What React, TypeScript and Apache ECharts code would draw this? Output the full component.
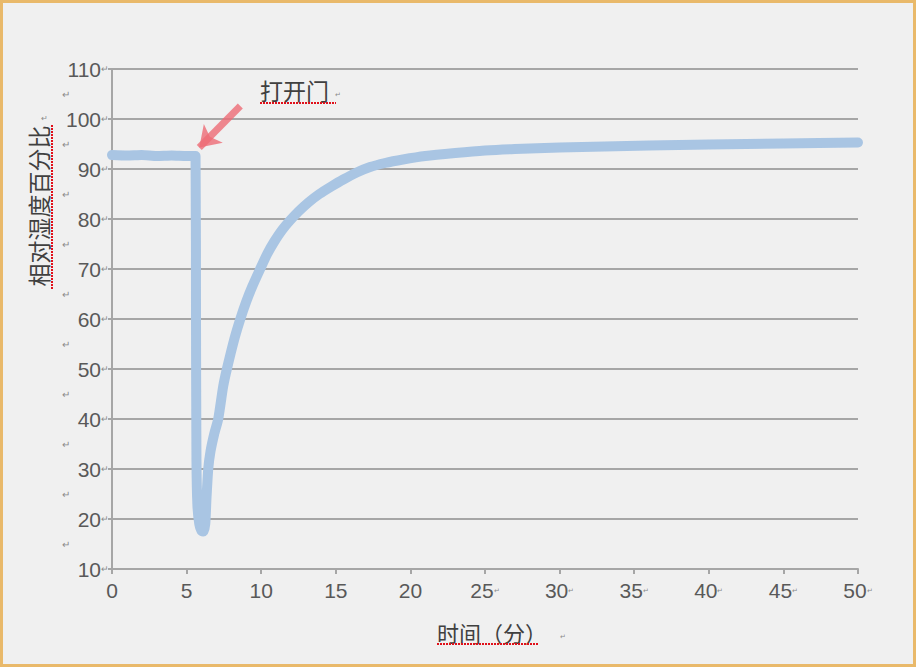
import React, { useEffect, useRef } from "react";
import * as echarts from "echarts";

// time in minutes and relative humidity (%)
const minutes = [
  0, 1, 2, 3, 4, 5, 5.6, 5.63, 5.66, 5.72, 5.85, 6.0, 6.12, 6.25, 6.33, 6.45,
  6.6, 6.85, 7.12, 7.45, 7.7, 8.2, 8.6, 9.0, 9.4, 9.9, 10.4, 10.9, 11.4, 11.9,
  12.5, 13.2, 13.9, 14.7, 15.5, 16.4, 17.3, 18.3, 19.5, 21, 23, 25, 27, 30,
  33, 36, 40, 45, 50,
];
const humidity = [
  92.8, 92.7, 92.8, 92.6, 92.7, 92.6, 92.6, 60, 32, 23, 19, 17.6, 17.5, 19,
  24, 30, 33.5, 37, 40, 46.5, 50, 56, 60, 63.5, 66.5, 69.8, 73.0, 75.6, 77.8,
  79.6, 81.5, 83.4, 85.0, 86.5, 87.9, 89.3, 90.4, 91.2, 91.9, 92.6, 93.2,
  93.7, 94, 94.3, 94.5, 94.7, 94.9, 95.1, 95.3,
];
const xTicks = { min: 0, max: 50, step: 5 };
const yTicks = { min: 10, max: 110, step: 10 };
// "打开门" arrow: tail and tip in data units
const arrowTail = [8.6, 102.6];
const arrowTip = [5.85, 94.3];

const yTitle = "相对湿度百分比";
const xTitle = "时间（分）";
const doorLabel = "打开门";

const LATIN = "'Liberation Sans', Arial, sans-serif";
const CJK = "'Noto Sans CJK SC', sans-serif";
const GRAY = "#a6a6a6";

const App = () => {
  const chartRef = useRef<HTMLDivElement>(null);

  useEffect(() => {
    document.body.style.margin = "0";
    if (!chartRef.current) return;
    const chart = echarts.init(chartRef.current, null, { renderer: "svg" });
    const points = minutes.map((m, i) => [m, humidity[i]]);
    const wavy = { stroke: "#e0101a", lineWidth: 2, lineDash: [2, 1] };

    chart.setOption({
      animation: false,
      backgroundColor: "#f0f0f0",
      grid: { left: 112, right: 58, top: 69, bottom: 98 },
      xAxis: {
        type: "value",
        min: xTicks.min,
        max: xTicks.max,
        interval: xTicks.step,
        axisLine: { lineStyle: { color: GRAY, width: 2 } },
        axisTick: { length: 5, lineStyle: { color: GRAY, width: 2 } },
        splitLine: { show: false },
        axisLabel: {
          margin: 11,
          formatter: (v: number) => (v >= 25 ? `{n|${v}}{m|↵}` : `{n|${v}}`),
          rich: {
            n: { fontSize: 21, color: "#595959", fontFamily: LATIN },
            m: { fontSize: 7, color: "#8a8a8a", fontFamily: LATIN },
          },
        },
      },
      yAxis: [
        {
          type: "value",
          min: yTicks.min,
          max: yTicks.max,
          interval: yTicks.step,
          axisLine: { show: true, lineStyle: { color: GRAY, width: 2 } },
          axisTick: { show: true, length: 4, lineStyle: { color: GRAY, width: 2 } },
          splitLine: { lineStyle: { color: GRAY, width: 2 } },
          axisLabel: {
            margin: 3,
            formatter: (v: number) => `{n|${v}}{m|↵}`,
            rich: {
              n: { fontSize: 21, color: "#595959", fontFamily: LATIN },
              m: { fontSize: 9, color: "#8a8a8a", fontFamily: LATIN },
            },
          },
        },
        {
          // stray paragraph marks between the tick labels
          type: "value",
          position: "left",
          min: yTicks.min,
          max: yTicks.max,
          interval: yTicks.step / 2,
          axisLine: { show: false },
          axisTick: { show: false },
          splitLine: { show: false },
          axisLabel: {
            margin: 42,
            fontSize: 10,
            color: "#8a8a8a",
            fontFamily: LATIN,
            formatter: (v: number) => (v % yTicks.step === 5 ? "↵" : ""),
          },
        },
      ],
      series: [
        {
          type: "line",
          data: points,
          showSymbol: false,
          symbol: "none",
          smooth: 0.2,
          lineStyle: { color: "#a9c5e3", width: 10, cap: "round", join: "round" },
          markLine: {
            silent: true,
            symbol: ["none", "arrow"],
            symbolSize: 20,
            label: { show: false },
            lineStyle: { color: "#ee6b76", width: 7, type: "solid", opacity: 0.8 },
            data: [[{ coord: arrowTail }, { coord: arrowTip }]],
          },
        },
      ],
      graphic: [
        {
          type: "rect",
          shape: { x: 1.5, y: 1.5, width: 913, height: 664 },
          style: { fill: "none", stroke: "#e9b96a", lineWidth: 3 },
        },
        {
          type: "text",
          x: 38,
          y: 206,
          rotation: Math.PI / 2,
          style: {
            text: yTitle,
            font: `23px ${CJK}`,
            fill: "#404040",
            align: "center",
            verticalAlign: "middle",
          },
        },
        {
          type: "text",
          x: 44,
          y: 118,
          style: { text: "↵", font: `8px ${LATIN}`, fill: "#8a8a8a", align: "center", verticalAlign: "middle" },
        },
        { type: "line", shape: { x1: 52, y1: 125, x2: 52, y2: 290 }, style: wavy },
        {
          type: "text",
          x: 437,
          y: 632,
          style: { text: xTitle, font: `22px ${CJK}`, fill: "#404040", align: "left", verticalAlign: "middle" },
        },
        {
          type: "text",
          x: 563,
          y: 636,
          style: { text: "↵", font: `7px ${LATIN}`, fill: "#8a8a8a", align: "center", verticalAlign: "middle" },
        },
        { type: "line", shape: { x1: 437, y1: 644, x2: 539, y2: 644 }, style: wavy },
        {
          type: "text",
          x: 260,
          y: 90,
          style: { text: doorLabel, font: `23px ${CJK}`, fill: "#404040", align: "left", verticalAlign: "middle" },
        },
        {
          type: "text",
          x: 338,
          y: 94,
          style: { text: "↵", font: `7px ${LATIN}`, fill: "#8a8a8a", align: "center", verticalAlign: "middle" },
        },
        { type: "line", shape: { x1: 260, y1: 103, x2: 336, y2: 103 }, style: wavy },
      ],
    });

    return () => {
      chart.dispose();
    };
  }, []);

  return <div ref={chartRef} style={{ width: 916, height: 667 }}></div>;
};

export default App;
